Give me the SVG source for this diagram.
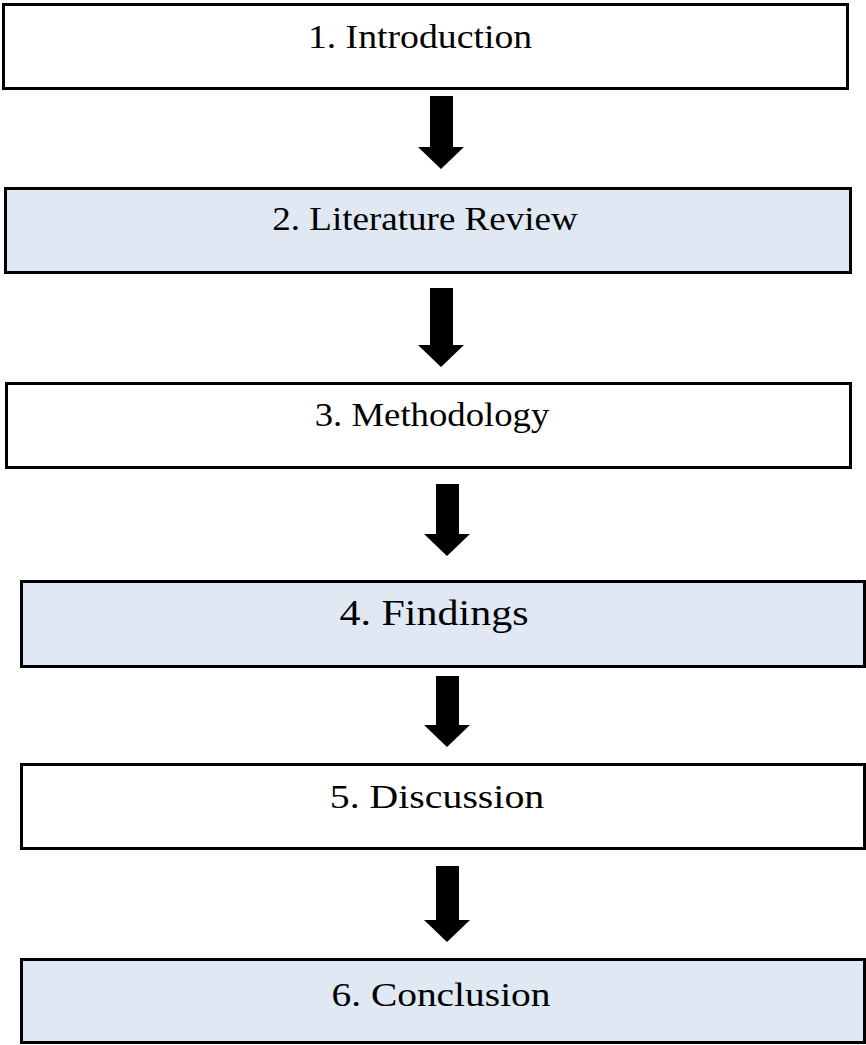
<svg xmlns="http://www.w3.org/2000/svg" width="866" height="1045" viewBox="0 0 866 1045">
  <style>
    .box { stroke: #000; stroke-width: 3; }
    .plain { fill: #ffffff; }
    .tint { fill: #dfe8f3; }
    .label { font-family: "Liberation Serif", "Times New Roman", serif; font-size: 34px; fill: #000; text-anchor: middle; }
    .arrow { fill: #000; }
  </style>
  <rect width="866" height="1045" fill="#ffffff"/>

  <g id="connectors">
    <polygon class="arrow" points="430,96 453,96 453,147 464,147 441,169 418,147 430,147"/>
    <polygon class="arrow" points="430,288 453,288 453,345 464,345 441,367 418,345 430,345"/>
    <polygon class="arrow" points="436,484 459,484 459,534 470,534 447,556 424,534 436,534"/>
    <polygon class="arrow" points="436,676 459,676 459,725 470,725 447,747 424,725 436,725"/>
    <polygon class="arrow" points="436,866 459,866 459,920 470,920 447,942 424,920 436,920"/>
  </g>

  <g id="introduction">
    <rect class="box plain" x="3.5" y="4.5" width="844" height="84"/>
    <text class="label" transform="translate(420,48) scale(1.11,1)">1. Introduction</text>
  </g>

  <g id="literature-review">
    <rect class="box tint" x="5.5" y="188.5" width="845" height="84"/>
    <text class="label" transform="translate(425,230) scale(1.09,1)">2. Literature Review</text>
  </g>

  <g id="methodology">
    <rect class="box plain" x="6.5" y="383.5" width="844" height="84"/>
    <text class="label" transform="translate(432,426) scale(1.08,1)">3. Methodology</text>
  </g>

  <g id="findings">
    <rect class="box tint" x="21.5" y="581.5" width="843" height="85"/>
    <text class="label" transform="translate(434,625) scale(1.2,1)" style="font-size:35px">4. Findings</text>
  </g>

  <g id="discussion">
    <rect class="box plain" x="21.5" y="764.5" width="843" height="84"/>
    <text class="label" transform="translate(437,808) scale(1.17,1)">5. Discussion</text>
  </g>

  <g id="conclusion">
    <rect class="box tint" x="21.5" y="959.5" width="843" height="83"/>
    <text class="label" transform="translate(441,1006) scale(1.16,1)">6. Conclusion</text>
  </g>
</svg>
